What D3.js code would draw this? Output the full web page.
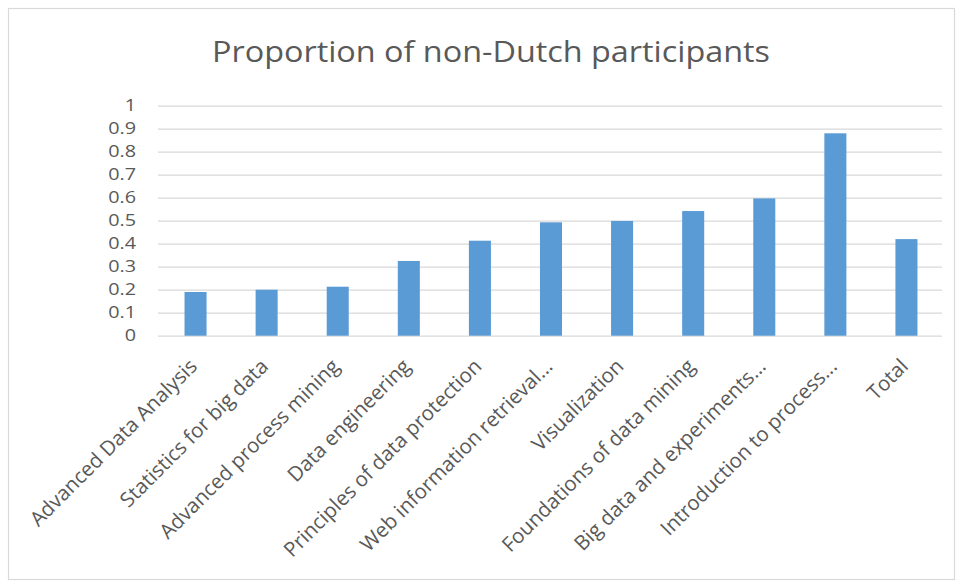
<!DOCTYPE html>
<html>
<head>
<meta charset="utf-8">
<script src="https://cdn.jsdelivr.net/npm/d3@7"></script>
<style>
  html, body { margin: 0; padding: 0; background: #fff; }
  svg { display: block; }
  text { font-family: "Open Sans", "Noto Sans", sans-serif; fill: #595959; }
</style>
</head>
<body>
<svg id="chart" width="958" height="583"></svg>
<script>
// Courses and their share of non-Dutch participants
const courses = [
  "Advanced Data Analysis",
  "Statistics for big data",
  "Advanced process mining",
  "Data engineering",
  "Principles of data protection",
  "Web information retrieval...",
  "Visualization",
  "Foundations of data mining",
  "Big data and experiments...",
  "Introduction to process...",
  "Total"
];
const proportions = [0.19, 0.20, 0.213, 0.325, 0.413, 0.493, 0.499, 0.542, 0.597, 0.88, 0.42];
const yTicks = [0, 0.1, 0.2, 0.3, 0.4, 0.5, 0.6, 0.7, 0.8, 0.9, 1];
const chartTitle = "Proportion of non-Dutch participants";

const svg = d3.select("#chart");
const W = 958, H = 583;
const plot = { left: 160, right: 942, top: 105.7, bottom: 335.7 };

// Outer frame
svg.append("rect")
  .attr("x", 8.5).attr("y", 8.5)
  .attr("width", W - 12).attr("height", H - 12)
  .attr("fill", "#fff").attr("stroke", "#d9d9d9").attr("stroke-width", 1.2);

const x = d3.scaleBand()
  .domain(courses)
  .range([plot.left, plot.right])
  .paddingInner(0.69)
  .paddingOuter(0.345);

const y = d3.scaleLinear().domain([0, 1]).range([plot.bottom, plot.top]);

// Horizontal gridlines and value labels
const tickGap = 22, tickStretch = 1.2;
const yAxis = d3.axisLeft(y)
  .tickValues(yTicks)
  .tickSize(-(plot.right - plot.left + 2))
  .tickPadding(tickGap)
  .tickFormat(d => d3.format("")(+d.toFixed(1)));

const gy = svg.append("g")
  .attr("transform", `translate(${plot.left - 2},0)`)
  .call(yAxis);
gy.select(".domain").remove();
gy.selectAll(".tick line").attr("stroke", "#d9d9d9").attr("stroke-width", 1.3);
gy.selectAll(".tick text")
  .attr("font-size", 16.5)
  .attr("fill", "#595959")
  .style("font-family", "'Open Sans', sans-serif")
  .attr("x", -tickGap / tickStretch)
  .attr("transform", `scale(${tickStretch},1)`);

// Bars
svg.append("g").selectAll("rect")
  .data(courses)
  .join("rect")
  .attr("x", d => x(d))
  .attr("width", x.bandwidth())
  .attr("y", (d, i) => y(proportions[i]))
  .attr("height", (d, i) => y(0) - y(proportions[i]))
  .attr("fill", "#5b9bd5");

// Category labels, slanted
const xAxis = d3.axisBottom(x).tickSize(0).tickPadding(0);
const gx = svg.append("g")
  .attr("transform", `translate(0,${plot.bottom})`)
  .call(xAxis);
gx.select(".domain").remove();
gx.selectAll(".tick text")
  .attr("font-size", 20.5)
  .attr("fill", "#595959")
  .style("font-family", "'Open Sans', sans-serif")
  .attr("text-anchor", "end")
  .attr("dy", null)
  .attr("y", null)
  .attr("dominant-baseline", "middle")
  .attr("transform", "translate(-1,28) rotate(-45)");

// Title
svg.append("text")
  .attr("x", 491).attr("y", 62)
  .attr("text-anchor", "middle")
  .attr("font-size", 30)
  .attr("fill", "#595959")
  .attr("textLength", 558)
  .attr("lengthAdjust", "spacingAndGlyphs")
  .text(chartTitle);
</script>
</body>
</html>
